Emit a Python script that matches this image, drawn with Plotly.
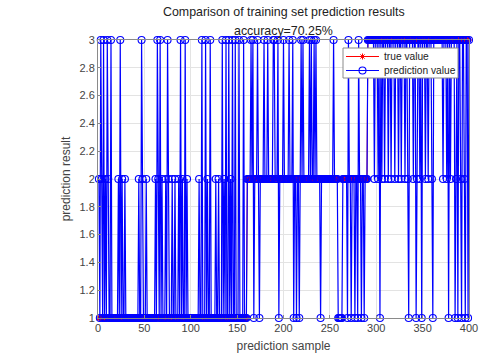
import plotly.graph_objects as go

# ---- data ----
n_samples = 400
class_sizes = [160, 130, 110]          # true classes 1, 2, 3 (samples 1..160, 161..290, 291..400)
class_labels = [1, 2, 3]

# misclassified samples: sample index -> predicted class
wrong_as_3_in_c1 = [3, 6, 10, 14, 24, 47, 64, 67, 75, 89, 94, 112, 116, 121, 134, 138, 141, 145, 148, 152, 157]
wrong_as_2_in_c1 = [1, 4, 8, 11, 22, 26, 29, 44, 48, 52, 62, 65, 69, 73, 76, 80, 83, 87, 91, 96, 109, 118, 127, 130, 136, 143]
wrong_as_3_in_c2 = [165, 167, 172, 179, 183, 189, 190, 194, 200, 206, 210, 219, 221, 228, 230, 233, 235, 254, 270, 281]
wrong_as_1_in_c2 = [168, 174, 195, 211, 214, 217, 240, 259, 260, 261, 262, 263, 269, 273, 277, 280, 284, 287]
wrong_as_1_in_c3 = [304, 335, 343, 349, 361, 378, 385, 388, 392, 396, 399]
wrong_as_2_in_c3 = [298, 302, 306, 309, 313, 316, 320, 324, 327, 331, 334, 340, 344, 347, 353, 356, 360, 372, 376, 380, 386, 391, 395]

x_ticks = [0, 50, 100, 150, 200, 250, 300, 350, 400]
y_ticks = [1, 1.2, 1.4, 1.6, 1.8, 2, 2.2, 2.4, 2.6, 2.8, 3]
legend_names = ["true value", "prediction value"]

# ---- build series ----
samples = list(range(1, n_samples + 1))
true_value = []
for lab, size in zip(class_labels, class_sizes):
    true_value += [lab] * size
prediction = list(true_value)
for lst, p in [(wrong_as_3_in_c1, 3), (wrong_as_2_in_c1, 2), (wrong_as_3_in_c2, 3),
               (wrong_as_1_in_c2, 1), (wrong_as_1_in_c3, 1), (wrong_as_2_in_c3, 2)]:
    for s in lst:
        prediction[s - 1] = p
acc = sum(1 for a, b in zip(true_value, prediction) if a == b) / n_samples * 100

FONT = "Liberation Sans, Arial, sans-serif"
RED, BLUE = "#ff0000", "#0000ff"
red_marker = dict(symbol="asterisk-open", size=5, color=RED, line=dict(color=RED, width=1))
blue_marker = dict(symbol="circle-open", size=7, color=BLUE, line=dict(color=BLUE, width=1.1))

# plot area in pixels
L, R, T, B = 98, 469, 40, 318

fig = go.Figure()
fig.add_trace(go.Scatter(
    x=samples, y=true_value, mode="lines+markers", name=legend_names[0],
    line=dict(color=RED, width=1), marker=red_marker, cliponaxis=False, showlegend=False,
))
fig.add_trace(go.Scatter(
    x=samples, y=prediction, mode="lines+markers", name=legend_names[1],
    line=dict(color=BLUE, width=1.2), marker=blue_marker, cliponaxis=False, showlegend=False,
))

# ---- hand-made MATLAB-like legend on an overlay axis measured in pixels ----
lg_x0, lg_x1, lg_y0, lg_y1 = 343, 458, 48, 78
row_y = [56.5, 70.5]
fig.add_trace(go.Scatter(x=[lg_x0, lg_x1, lg_x1, lg_x0, lg_x0], y=[lg_y0, lg_y0, lg_y1, lg_y1, lg_y0],
                         xaxis="x2", yaxis="y2", mode="lines", fill="toself", fillcolor="white",
                         line=dict(color="#8a8a8a", width=1), showlegend=False, hoverinfo="skip"))
for yy, col, mk in zip(row_y, [RED, BLUE], [red_marker, blue_marker]):
    fig.add_trace(go.Scatter(x=[346, 379], y=[yy, yy], xaxis="x2", yaxis="y2", mode="lines",
                             line=dict(color=col, width=1), showlegend=False, hoverinfo="skip"))
    fig.add_trace(go.Scatter(x=[362.5], y=[yy], xaxis="x2", yaxis="y2", mode="markers",
                             marker=mk, showlegend=False, hoverinfo="skip"))
for yy, name in zip(row_y, legend_names):
    fig.add_annotation(text=name, xref="x2", yref="y2", x=382, y=yy, showarrow=False,
                       xanchor="left", yanchor="middle",
                       font=dict(family=FONT, size=10.2, color="#222222"))

axis_common = dict(
    showgrid=True, gridcolor="#e3e3e3", gridwidth=1,
    showline=True, linecolor="#8a8a8a", linewidth=1, mirror=True,
    ticks="inside", ticklen=3, tickcolor="#8a8a8a",
    tickfont=dict(family=FONT, size=11, color="#444444"),
    zeroline=False, automargin=False,
)

fig.update_layout(
    width=479, height=357,
    margin=dict(l=L, r=479 - R, t=T, b=357 - B),
    paper_bgcolor="white", plot_bgcolor="white",
    font=dict(family=FONT, color="#222222"),
    showlegend=False,
    xaxis=dict(range=[0, 400], tickvals=x_ticks, ticktext=[str(v) for v in x_ticks],
               title=dict(text="prediction sample", font=dict(family=FONT, size=12, color="#444444"), standoff=8),
               **axis_common),
    yaxis=dict(range=[1, 3], tickvals=y_ticks, ticktext=[f"{v:g}" for v in y_ticks],
               title=dict(text="prediction result", font=dict(family=FONT, size=12, color="#444444"), standoff=6),
               **axis_common),
    xaxis2=dict(range=[L, R], overlaying="x", visible=False, fixedrange=True),
    yaxis2=dict(range=[B, T], overlaying="y", visible=False, fixedrange=True),
)

fig.add_annotation(text="Comparison of training set prediction results", xref="paper", yref="paper",
                   x=0.5, y=1, yshift=28, showarrow=False, xanchor="center", yanchor="middle",
                   font=dict(family=FONT, size=12.4, color="#222222"))
fig.add_annotation(text=f"accuracy={acc:.2f}%", xref="paper", yref="paper",
                   x=0.5, y=1, yshift=9.5, showarrow=False, xanchor="center", yanchor="middle",
                   font=dict(family=FONT, size=12.4, color="#222222"))

fig.write_html("out.html")
